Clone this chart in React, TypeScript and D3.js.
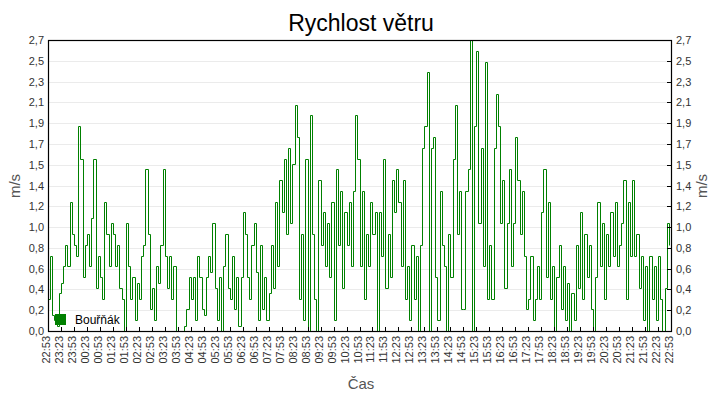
import React, { useEffect, useRef } from 'react'
import * as d3 from 'd3'

// one value every 5 minutes, starting at 22:53 (6 values per half hour)
const windSpeed: number[] = [
  // 22:53 - 23:53
  0.3, 0.7, 0.15, 0.1, 0.05, 0.35, 0.45, 0.6, 0.8, 0.6, 1.2, 0.9,
  // 23:53 - 00:53
  0.8, 0.7, 1.9, 1.6, 0.5, 0.8, 0.9, 0.6, 1.05, 1.6, 0.4, 0.7,
  // 00:53 - 01:53
  0.5, 0.3, 1.2, 0.9, 0.6, 1.0, 0.9, 0.6, 0.8, 0.4, 0.3, 0.0,
  // 01:53 - 02:53
  1.0, 0.6, 0.3, 0.5, 0.1, 0.45, 0.3, 0.7, 0.8, 1.5, 0.9, 0.2,
  // 02:53 - 03:53
  0.4, 0.1, 0.6, 0.45, 0.8, 1.5, 0.7, 0.4, 0.7, 0.3, 0.6, 0.0,
  // 03:53 - 04:53
  0.0, 0.0, 0.0, 0.05, 0.2, 0.5, 0.3, 0.5, 0.1, 0.7, 0.5, 0.2,
  // 04:53 - 05:53
  0.15, 0.5, 0.7, 0.55, 1.0, 0.4, 0.1, 0.5, 0.0, 0.6, 0.9, 0.4,
  // 05:53 - 06:53
  0.3, 0.7, 0.2, 0.5, 0.05, 0.5, 1.1, 0.9, 0.5, 0.3, 0.8, 1.0,
  // 06:53 - 07:53
  0.55, 0.1, 0.8, 0.2, 0.5, 0.1, 0.35, 0.8, 0.4, 1.2, 0.6, 1.4,
  // 07:53 - 08:53
  1.1, 1.6, 0.9, 1.7, 1.0, 1.55, 2.1, 1.8, 0.3, 0.9, 0.1, 1.6,
  // 08:53 - 09:53
  0.0, 2.0, 0.9, 0.3, 0.0, 1.4, 0.8, 1.1, 0.6, 1.0, 0.5, 1.2,
  // 09:53 - 10:53
  0.1, 1.5, 0.8, 1.3, 0.4, 1.1, 0.8, 1.2, 0.6, 1.3, 2.0, 1.6,
  // 10:53 - 11:53
  0.6, 1.3, 0.3, 0.9, 0.6, 1.2, 0.9, 1.1, 0.0, 1.1, 0.7, 1.6,
  // 11:53 - 12:53
  0.4, 0.9, 0.5, 1.4, 1.1, 1.5, 1.2, 0.6, 1.4, 0.3, 0.6, 0.1,
  // 12:53 - 13:53
  0.8, 0.3, 0.7, 0.0, 0.8, 1.7, 1.9, 2.4, 0.0, 1.7, 1.8, 0.5,
  // 13:53 - 14:53
  0.1, 1.3, 0.8, 0.6, 0.0, 0.9, 0.5, 1.6, 2.1, 0.9, 1.3, 0.2,
  // 14:53 - 15:53
  0.2, 1.3, 1.5, 2.7, 0.0, 1.9, 2.6, 1.0, 1.7, 0.6, 2.5, 0.3,
  // 15:53 - 16:53
  0.8, 0.3, 1.7, 2.2, 1.9, 1.0, 1.4, 0.4, 1.0, 1.5, 0.6, 1.0,
  // 16:53 - 17:53
  1.8, 1.4, 0.9, 1.3, 0.7, 0.2, 0.3, 0.7, 0.1, 0.3, 0.6, 0.3,
  // 17:53 - 18:53
  1.1, 1.5, 0.5, 1.2, 0.3, 0.6, 0.0, 0.5, 0.8, 0.2, 0.6, 0.1,
  // 18:53 - 19:53
  0.45, 0.0, 0.35, 0.1, 0.8, 0.4, 1.1, 0.3, 0.9, 0.5, 0.8, 0.2,
  // 19:53 - 20:53
  0.0, 0.5, 1.2, 0.6, 1.0, 0.3, 0.9, 0.6, 1.1, 0.7, 1.2, 0.6,
  // 20:53 - 21:53
  0.8, 1.0, 1.4, 0.3, 1.2, 0.7, 1.4, 0.7, 0.9, 0.4, 0.7, 0.1,
  // 21:53 - 22:53
  0.6, 0.0, 0.7, 0.3, 0.6, 0.1, 0.7, 0.3, 0.0, 0.4, 1.0, 0.8,
]

const timeLabels: string[] = [
  '22:53', '23:23', '23:53', '00:23', '00:53', '01:23', '01:53', '02:23', '02:53',
  '03:23', '03:53', '04:23', '04:53', '05:23', '05:53', '06:23', '06:53', '07:23',
  '07:53', '08:23', '08:53', '09:23', '09:53', '10:23', '10:53', '11:23', '11:53',
  '12:23', '12:53', '13:23', '13:53', '14:23', '14:53', '15:23', '15:53', '16:23',
  '16:53', '17:23', '17:53', '18:23', '18:53', '19:23', '19:53', '20:23', '20:53',
  '21:23', '21:53', '22:23', '22:53',
]

const stepMinutes = 5
const yMax = 2.7
const yTickCount = 14

export default function App() {
  const svgRef = useRef<SVGSVGElement>(null)

  useEffect(() => {
    if (!svgRef.current) return
    const svg = d3.select(svgRef.current)
    svg.selectAll('*').remove()

    const width = 720
    const height = 400
    const margin = { top: 40, right: 49, bottom: 69, left: 48 }
    const innerWidth = width - margin.left - margin.right
    const innerHeight = height - margin.top - margin.bottom
    const font = 'Liberation Sans, Arial, sans-serif'

    svg.attr('width', width).attr('height', height)
    svg.append('rect').attr('width', width).attr('height', height).attr('fill', '#fff')

    const g = svg.append('g').attr('transform', `translate(${margin.left},${margin.top})`)

    // Scales
    const x = d3.scaleLinear().domain([0, 1440]).range([0, innerWidth])
    const y = d3.scaleLinear().domain([0, yMax]).range([innerHeight, 0])
    const yTicks = d3.range(yTickCount + 1).map(i => (i * yMax) / yTickCount)
    const fmt = (v: number) => v.toFixed(1).replace('.', ',')

    // grid
    g.selectAll('.grid')
      .data(yTicks.slice(1, -1))
      .enter()
      .append('line')
      .attr('x1', 0)
      .attr('x2', innerWidth)
      .attr('y1', d => Math.round(y(d)) + 0.5)
      .attr('y2', d => Math.round(y(d)) + 0.5)
      .attr('stroke', '#ebebeb')

    // data line, snapped to pixel centres so it stays pure green
    const line = d3.line<number>()
      .x((_, i) => Math.round(x(i * stepMinutes)) + 0.5)
      .y(d => Math.round(y(d)) + 0.5)
      .curve(d3.curveStepAfter)

    g.append('path')
      .datum(windSpeed)
      .attr('d', line)
      .attr('fill', 'none')
      .attr('stroke', '#008000')
      .attr('stroke-width', 1)

    // frame
    g.append('rect')
      .attr('x', 0.5)
      .attr('y', 0.5)
      .attr('width', innerWidth)
      .attr('height', innerHeight)
      .attr('fill', 'none')
      .attr('stroke', '#000')
      .attr('stroke-width', 1.2)

    // left axis labels
    g.selectAll('.yl')
      .data(yTicks)
      .enter()
      .append('text')
      .attr('x', -4)
      .attr('y', d => y(d) + 4)
      .attr('text-anchor', 'end')
      .attr('font-family', font)
      .attr('font-size', 11)
      .attr('fill', '#333')
      .text(d => fmt(d))

    // right axis ticks + labels
    g.selectAll('.yrt')
      .data(yTicks)
      .enter()
      .append('line')
      .attr('x1', innerWidth - 4)
      .attr('x2', innerWidth)
      .attr('y1', d => Math.round(y(d)) + 0.5)
      .attr('y2', d => Math.round(y(d)) + 0.5)
      .attr('stroke', '#000')

    g.selectAll('.yr')
      .data(yTicks)
      .enter()
      .append('text')
      .attr('x', innerWidth + 5)
      .attr('y', d => y(d) + 4)
      .attr('font-family', font)
      .attr('font-size', 11)
      .attr('fill', '#333')
      .text(d => fmt(d))

    // bottom ticks + labels
    g.selectAll('.xt')
      .data(timeLabels)
      .enter()
      .append('line')
      .attr('x1', (_, i) => Math.round(x(i * 30)) + 0.5)
      .attr('x2', (_, i) => Math.round(x(i * 30)) + 0.5)
      .attr('y1', innerHeight - 4)
      .attr('y2', innerHeight)
      .attr('stroke', '#000')

    g.selectAll('.xl')
      .data(timeLabels)
      .enter()
      .append('text')
      .attr('transform', (_, i) => `translate(${x(i * 30) + 2},${innerHeight + 5}) rotate(-90)`)
      .attr('text-anchor', 'end')
      .attr('font-family', font)
      .attr('font-size', 11)
      .attr('fill', '#333')
      .text(d => d)

    // titles
    svg.append('text')
      .attr('x', 361)
      .attr('y', 31)
      .attr('text-anchor', 'middle')
      .attr('font-family', font)
      .attr('font-size', 23)
      .attr('fill', '#000')
      .text('Rychlost větru')

    svg.append('text')
      .attr('x', 361)
      .attr('y', 389)
      .attr('text-anchor', 'middle')
      .attr('font-family', font)
      .attr('font-size', 15)
      .attr('fill', '#555')
      .text('Čas')

    ;[20, 707].forEach(px => {
      svg.append('text')
        .attr('transform', `translate(${px},186) rotate(-90)`)
        .attr('text-anchor', 'middle')
        .attr('font-family', font)
        .attr('font-size', 15)
        .attr('fill', '#555')
        .text('m/s')
    })

    // legend
    svg.append('rect')
      .attr('x', 55)
      .attr('y', 314)
      .attr('width', 11)
      .attr('height', 11)
      .attr('fill', '#008000')

    svg.append('text')
      .attr('x', 75)
      .attr('y', 324)
      .attr('font-family', font)
      .attr('font-size', 12)
      .attr('fill', '#000')
      .text('Bouřňák')
  }, [])

  return <svg ref={svgRef} style={{ position: 'absolute', left: 0, top: 0, display: 'block' }} />
}
